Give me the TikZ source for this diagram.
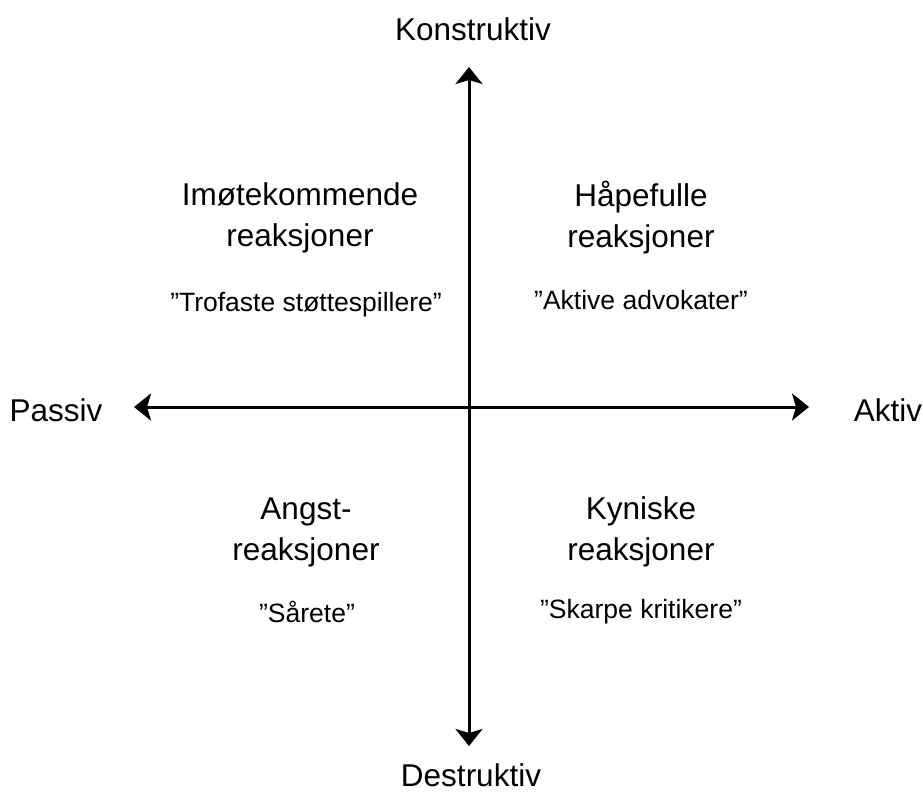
\documentclass[tikz,border=0pt]{standalone}
\usepackage{fontspec}
\setmainfont{Liberation Sans}
\usetikzlibrary{arrows.meta}
\begin{document}
\begin{tikzpicture}[x=1pt,y=-1pt,
  axis/.style={line width=3pt,{Stealth[length=17pt,width=27pt,inset=4pt]}-{Stealth[length=17pt,width=27pt,inset=4pt]}},
  axislabel/.style={font=\fontsize{31.5}{38}\selectfont,inner sep=0pt},
  quadhead/.style={font=\fontsize{31.5}{41}\selectfont,align=center,inner sep=0pt},
  quadquote/.style={font=\fontsize{26.5}{32}\selectfont,inner sep=0pt}]
  \useasboundingbox (0,0) rectangle (923,793);
  % axes
  \coordinate (top) at (469,67);
  \coordinate (bottom) at (469,746);
  \coordinate (left) at (134,407);
  \coordinate (right) at (809,407);
  \draw[axis] (bottom) -- (top);
  \draw[axis] (left) -- (right);
  % axis labels
  \node[axislabel] (konstr) at (473,29) {Konstruktiv};
  \node[axislabel] (destr) at (471,775) {Destruktiv};
  \node[axislabel] (passiv) at (56,410) {Passiv};
  \node[axislabel] (aktiv) at (888,410) {Aktiv};
  % quadrants
  \node[quadhead] (tl) at (300,218) {Imøtekommende\\reaksjoner};
  \node[quadquote] (tlq) at (306,305) {”Trofaste støttespillere”};
  \node[quadhead] (tr) at (641,218) {Håpefulle\\reaksjoner};
  \node[quadquote] (trq) at (641,300) {”Aktive advokater”};
  \node[quadhead] (bl) at (306,532) {Angst-\\reaksjoner};
  \node[quadquote] (blq) at (307,612) {”Sårete”};
  \node[quadhead] (br) at (641,532) {Kyniske\\reaksjoner};
  \node[quadquote] (brq) at (641,612) {”Skarpe kritikere”};
\end{tikzpicture}
\end{document}
